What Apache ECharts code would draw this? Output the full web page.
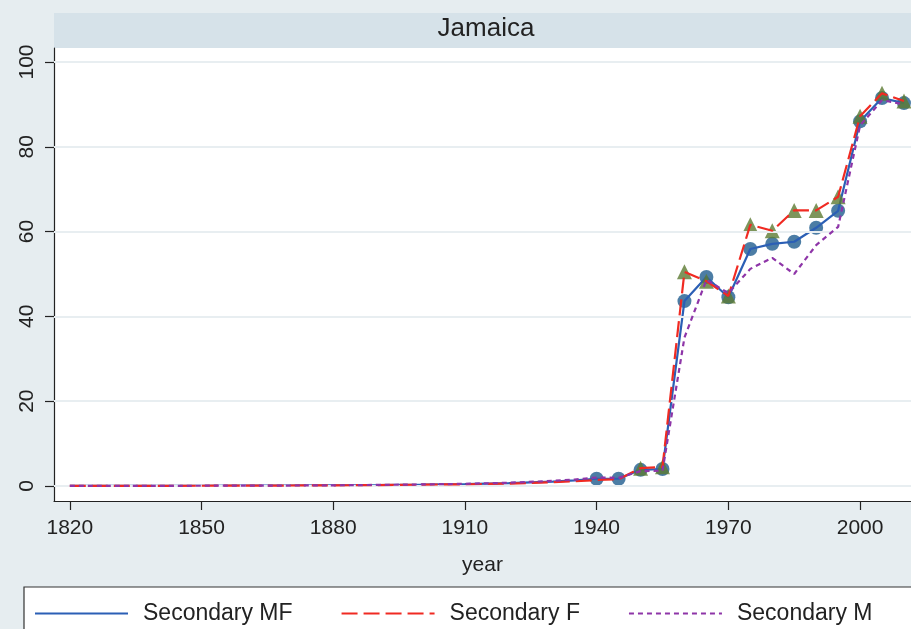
<!DOCTYPE html>
<html>
<head>
<meta charset="utf-8">
<script src="https://cdn.jsdelivr.net/npm/echarts@6/dist/echarts.min.js"></script>
<style>
  html, body { margin: 0; padding: 0; background: #e6edf0; }
  #chart { width: 911px; height: 629px; }
</style>
</head>
<body>
<div id="chart"></div>
<script>
var years = [1820, 1830, 1840, 1850, 1860, 1870, 1880, 1890, 1900, 1910, 1920, 1930, 1935,
             1940, 1945, 1950, 1955, 1960, 1965, 1970, 1975, 1980, 1985, 1990, 1995, 2000, 2005, 2010];
var secondaryMF = [0, 0, 0, 0.05, 0.1, 0.1, 0.15, 0.2, 0.3, 0.45, 0.65, 1.0, 1.3,
                   1.7, 1.7, 3.8, 4.0, 43.6, 49.3, 44.5, 55.9, 57.1, 57.6, 60.9, 64.9, 86.0, 91.5, 90.3];
var secondaryF = [0, 0, 0, 0.05, 0.1, 0.1, 0.15, 0.2, 0.3, 0.4, 0.55, 0.9, 1.1,
                  1.4, 1.6, 4.2, 4.5, 50.5, 48.3, 44.8, 61.6, 60.2, 65.0, 65.0, 68.2, 87.2, 92.6, 90.8];
var secondaryM = [0, 0, 0, 0.05, 0.1, 0.1, 0.15, 0.25, 0.35, 0.5, 0.75, 1.2, 1.5,
                  2.0, 1.9, 3.5, 3.6, 35.0, 48.6, 45.5, 51.2, 53.8, 50.0, 56.8, 61.1, 85.0, 91.0, 90.0];
var mfMarkerFrom = 1940;
var fMarkerFrom = 1950;
var xTicks = [1820, 1850, 1880, 1910, 1940, 1970, 2000];
var yTicks = [0, 20, 40, 60, 80, 100];

function pairs(vals, from) {
    var out = [];
    for (var i = 0; i < years.length; i++) {
        if (from == null || years[i] >= from) out.push([years[i], vals[i]]);
    }
    return out;
}

var chart = echarts.init(document.getElementById('chart'));
var font = 'Liberation Sans, Arial, sans-serif';

chart.setOption({
    backgroundColor: '#e6edf0',
    animation: false,
    textStyle: { fontFamily: font },
    grid: {
        left: 54, top: 48, right: 0, bottom: 128,
        show: true, backgroundColor: '#ffffff', borderWidth: 0
    },
    graphic: [
        { type: 'rect', shape: { x: 54, y: 13, width: 857, height: 35 }, style: { fill: '#d6e2e9' }, z: 0 },
        { type: 'text', x: 486, y: 29, style: { text: 'Jamaica', font: '26px ' + font, fill: '#222', align: 'center', verticalAlign: 'middle' }, z: 1 },
        { type: 'rect', shape: { x: 24, y: 587, width: 930, height: 60 }, style: { fill: '#ffffff', stroke: '#333', lineWidth: 1.2 }, z: 0 }
    ],
    legend: {
        left: 29, top: 597,
        itemWidth: 93, itemHeight: 14, itemGap: 48,
        itemStyle: { opacity: 0 },
        textStyle: { fontSize: 23, color: '#222', fontFamily: font, padding: [0, 0, 0, 10] },
        data: ['Secondary MF', 'Secondary F', 'Secondary M']
    },
    xAxis: {
        type: 'value', min: 1816.4, max: 2011.6,
        name: 'year', nameLocation: 'middle', nameGap: 54,
        nameTextStyle: { fontSize: 21, color: '#222' },
        axisLine: { show: true, onZero: false, lineStyle: { color: '#222', width: 1.2 } },
        axisTick: { show: true, length: 9, customValues: xTicks, lineStyle: { color: '#222', width: 1.2 } },
        axisLabel: { customValues: xTicks, fontSize: 21, color: '#222', margin: 17,
                     formatter: function (v) { return String(v); } },
        splitLine: { show: false }
    },
    yAxis: {
        type: 'value', min: -3.55, max: 103.3,
        axisLine: { show: true, onZero: false, lineStyle: { color: '#222', width: 1.2 } },
        axisTick: { show: true, length: 9, customValues: yTicks, lineStyle: { color: '#222', width: 1.2 } },
        axisLabel: { customValues: yTicks, fontSize: 21, color: '#222', rotate: 90, margin: 16 },
        splitLine: { show: false }
    },
    series: [
        {
            name: 'gridlines', type: 'line', data: [], silent: true,
            markLine: {
                silent: true, symbol: 'none', label: { show: false },
                lineStyle: { color: '#e8eef1', width: 2, type: 'solid' },
                data: yTicks.map(function (v) { return { yAxis: v }; })
            }
        },
        {
            name: 'Secondary MF', type: 'line', data: pairs(secondaryMF), symbol: 'none',
            lineStyle: { color: '#2b5fb5', width: 2.2 }, itemStyle: { color: '#2b5fb5' }, z: 3
        },
        {
            type: 'scatter', data: pairs(secondaryMF, mfMarkerFrom), symbol: 'circle', symbolSize: 14,
            itemStyle: { color: '#1f5c8f' }, z: 2
        },
        {
            name: 'Secondary F', type: 'line', data: pairs(secondaryF), symbol: 'none',
            lineStyle: { color: '#f02a22', width: 2.2, type: [16, 6] }, itemStyle: { color: '#f02a22' }, z: 5
        },
        {
            type: 'scatter', data: pairs(secondaryF, fMarkerFrom), symbol: 'triangle', symbolSize: 15,
            itemStyle: { color: '#5c7a32' }, z: 4
        },
        {
            name: 'Secondary M', type: 'line', data: pairs(secondaryM), symbol: 'none',
            lineStyle: { color: '#8e35a8', width: 2.2, type: [5, 4] }, itemStyle: { color: '#8e35a8' }, z: 6
        }
    ]
});
</script>
</body>
</html>
